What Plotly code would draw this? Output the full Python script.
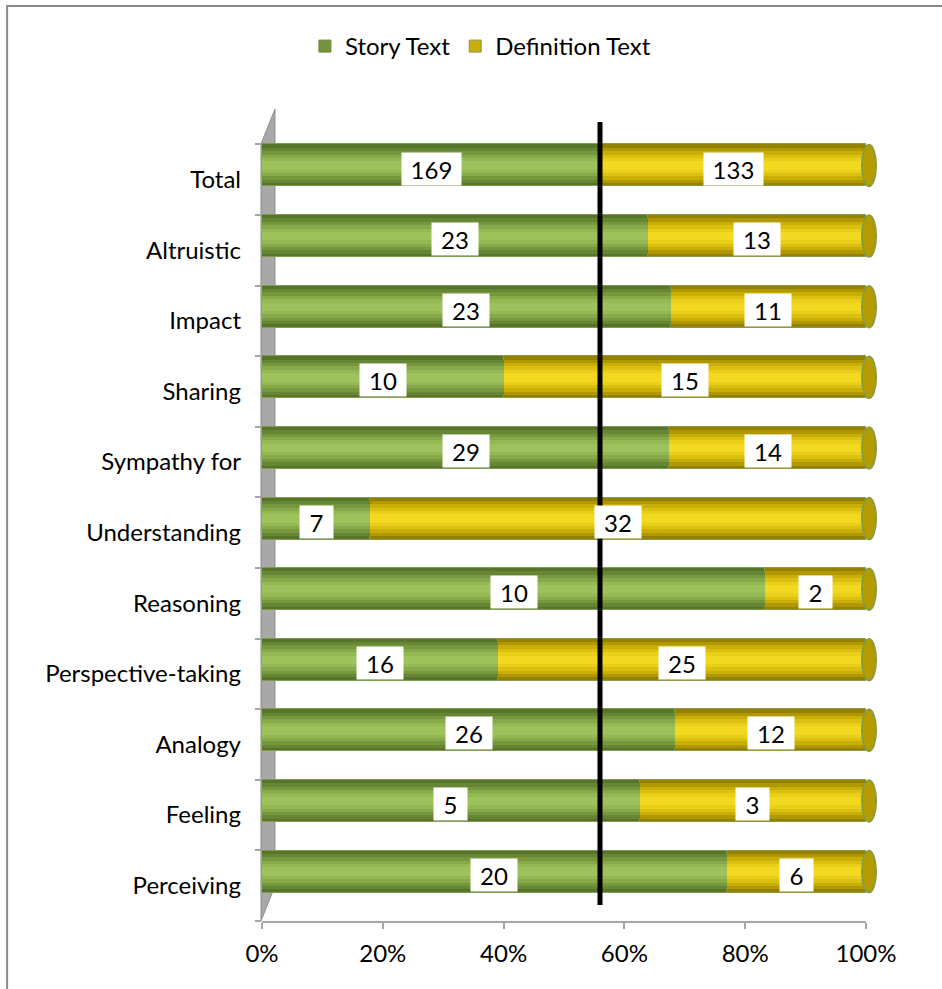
import plotly.graph_objects as go

categories = ["Perceiving", "Feeling", "Analogy", "Perspective-taking", "Reasoning",
              "Understanding", "Sympathy for", "Sharing", "Impact", "Altruistic", "Total"]
story = [20, 5, 26, 16, 10, 7, 29, 10, 23, 23, 169]
definition = [6, 3, 12, 25, 2, 32, 14, 15, 11, 13, 133]

story_share = [s / (s + d) for s, d in zip(story, definition)]
def_share = [d / (s + d) for s, d in zip(story, definition)]
total_line = story[-1] / (story[-1] + definition[-1])

FONT = "Lato"
FS = 24
BAR_W = 0.595
SHIFT = 0.2  # 3D offset of bars toward the top of each slot

green_layers = ["#56752a", "#668633", "#76973e", "#86a949", "#94b854", "#9dc15b"]
yellow_layers = ["#958000", "#b09800", "#c9af05", "#dcc010", "#eacf1a", "#f3d822"]
fracs = [1.0, 0.84, 0.68, 0.52, 0.36, 0.2]

fig = go.Figure()
for k, f in enumerate(fracs):
    w = BAR_W * f
    off = SHIFT - w / 2
    fig.add_trace(go.Bar(
        y=categories, x=story_share, base=[0] * len(categories), orientation="h",
        width=[w] * len(categories), offset=[off] * len(categories),
        marker=dict(color=green_layers[k],
                    line=dict(color="#7f9c4e" if k == 0 else green_layers[k], width=1 if k == 0 else 0)),
        name="Story Text", showlegend=False, hoverinfo="skip"))
    fig.add_trace(go.Bar(
        y=categories, x=def_share, base=story_share, orientation="h",
        width=[w] * len(categories), offset=[off] * len(categories),
        marker=dict(color=yellow_layers[k],
                    line=dict(color="#8a9a45" if k == 0 else yellow_layers[k], width=1 if k == 0 else 0)),
        name="Definition Text", showlegend=False, hoverinfo="skip"))

# legend entries
fig.add_trace(go.Bar(y=[None], x=[None], orientation="h", name="Story Text",
                     marker=dict(color="#77933c", line=dict(color="#6a8a35", width=1))))
fig.add_trace(go.Bar(y=[None], x=[None], orientation="h", name="Definition Text",
                     marker=dict(color="#c9ae0c", line=dict(color="#8a9a45", width=1))))

shapes = []
# chart frame
shapes.append(dict(type="rect", xref="paper", yref="paper", x0=-0.422, x1=1.2, y0=-0.2, y1=1.127,
                   line=dict(color="#8c8c8c", width=2), fillcolor="rgba(0,0,0,0)", layer="below"))
# left 3D wall
shapes.append(dict(type="path", xref="paper", yref="paper",
                   path="M -0.0017,0 L -0.0017,0.957 L 0.0215,1.0 L 0.0215,0.043 Z",
                   fillcolor="#a8a8a8", line=dict(color="#8f8f8f", width=1), layer="below"))
# end caps of cylinders
for i, c in enumerate(categories):
    shapes.append(dict(type="circle", xref="paper", yref="y", x0=0.993, x1=1.017,
                       y0=i + SHIFT - BAR_W / 2, y1=i + SHIFT + BAR_W / 2,
                       fillcolor="#b39b00", line=dict(color="#7f9c4e", width=1.5)))
# black reference line at Total story share
shapes.append(dict(type="line", xref="x", yref="paper", x0=total_line, x1=total_line,
                   y0=0.0197, y1=0.984, line=dict(color="black", width=5)))

annotations = []
for i, c in enumerate(categories):
    for val, center in ((story[i], story_share[i] / 2),
                        (definition[i], story_share[i] + def_share[i] / 2)):
        n = len(str(val))
        annotations.append(dict(x=center, y=c, xref="x", yref="y", text=str(val),
                                showarrow=False, bgcolor="white", borderpad=0,
                                width=13 * n + 20, height=32, yshift=11,
                                font=dict(family=FONT, size=FS, color="black")))

fig.update_layout(
    width=942, height=989,
    margin=dict(l=262, r=76, t=109, b=68),
    paper_bgcolor="white", plot_bgcolor="white",
    barmode="overlay", bargap=0,
    font=dict(family=FONT, size=FS, color="black"),
    legend=dict(orientation="h", xref="container", yref="container", x=0.51, y=0.953,
                xanchor="center", yanchor="middle", font=dict(family=FONT, size=FS),
                itemwidth=30, bgcolor="rgba(0,0,0,0)"),
    shapes=shapes, annotations=annotations,
    xaxis=dict(range=[0, 1], tickformat=".0%", dtick=0.2, showgrid=False, zeroline=False,
               showline=True, linecolor="#a6a6a6", linewidth=2, ticks="outside",
               tickcolor="#a6a6a6", ticklen=6, tickwidth=2,
               tickfont=dict(family=FONT, size=FS), ticklabelstandoff=4),
    yaxis=dict(type="category", categoryorder="array", categoryarray=categories,
               range=[-0.5, 11.0], showgrid=False, zeroline=False, showline=False,
               ticks="outside", tickson="boundaries", tickcolor="#a6a6a6", ticklen=6,
               tickwidth=2, tickfont=dict(family=FONT, size=FS), ticklabelstandoff=20),
)

fig.write_html("out.html")
